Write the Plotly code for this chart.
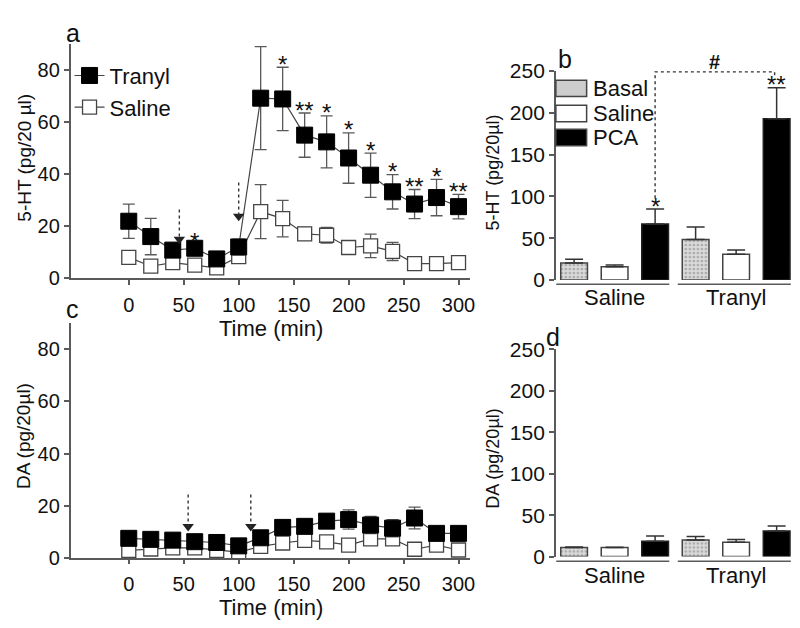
import plotly.graph_objects as go

# ---------------- data ----------------
time_min = [0, 20, 40, 60, 80, 100, 120, 140, 160, 180, 200, 220, 240, 260, 280, 300]

tranyl_5ht = [21.9, 16.0, 10.8, 11.5, 7.4, 12.0, 69.2, 68.9, 55.0, 52.4, 46.2, 39.6, 33.2, 28.5, 31.0, 27.5]
tranyl_5ht_err = [6.6, 7.0, 2.5, 1.5, 1.0, 3.0, 19.8, 12.2, 8.5, 10.0, 9.7, 8.5, 6.6, 5.6, 7.0, 4.7]
saline_5ht = [8.0, 4.6, 6.0, 5.0, 4.0, 8.3, 25.6, 22.9, 17.0, 16.5, 11.8, 12.4, 10.3, 5.6, 5.6, 6.0]
saline_5ht_err = [1.5, 1.2, 1.0, 1.0, 0.8, 2.5, 10.4, 7.0, 2.5, 3.0, 2.0, 4.5, 3.5, 0.5, 0.5, 0.5]
sig_5ht = ["", "", "", "*", "", "", "", "*", "**", "*", "*", "*", "*", "**", "*", "**"]

tranyl_da = [7.4, 7.0, 6.7, 6.1, 5.8, 4.5, 7.6, 11.6, 12.0, 14.0, 14.6, 12.5, 11.3, 15.2, 9.3, 9.3]
tranyl_da_err = [1.0, 1.0, 1.0, 1.0, 1.0, 1.0, 1.5, 2.0, 2.5, 2.5, 3.7, 3.3, 3.3, 4.2, 2.0, 2.0]
saline_da = [2.8, 3.3, 3.7, 3.7, 2.8, 2.1, 4.3, 5.6, 6.6, 6.0, 4.8, 7.2, 7.2, 3.2, 4.8, 2.9]
saline_da_err = [1.0, 0.8, 0.8, 0.8, 0.8, 0.8, 1.0, 1.5, 2.0, 1.0, 1.0, 1.0, 1.0, 0.8, 0.8, 0.8]

# injection arrows (time, top, tip)
arrows_a = [(46, 26.4, 13.5), (100, 36.8, 22.3)]
arrows_c = [(54, 24.2, 10.4), (111, 24.2, 10.4)]

groups = ["Saline", "Tranyl"]
conditions = ["Basal", "Saline", "PCA"]

ht_basal = [20.4, 48.5]
ht_basal_err = [4.6, 15.0]
ht_saline = [16.0, 31.0]
ht_saline_err = [2.0, 5.0]
ht_pca = [67.0, 193.0]
ht_pca_err = [18.0, 37.0]
ht_pca_sig = ["*", "**"]

da_basal = [10.9, 20.0]
da_basal_err = [0.7, 4.4]
da_saline = [11.0, 17.4]
da_saline_err = [0.4, 3.1]
da_pca = [18.6, 31.0]
da_pca_err = [6.2, 6.0]

# ---------------- styling ----------------
W, H = 800, 628
FONT = "Arial, Liberation Sans, sans-serif"
TXT = "#111111"
AX = "#5a5a5a"
LN = "#454545"


def fx(p):
    return p / W


def fy(p):
    return 1 - p / H


fig = go.Figure()

# ---- panel a & c: time courses ----
for (sal, sal_e, tra, tra_e, xa, ya, show) in [
    (saline_5ht, saline_5ht_err, tranyl_5ht, tranyl_5ht_err, "x", "y", True),
    (saline_da, saline_da_err, tranyl_da, tranyl_da_err, "x2", "y2", False),
]:
    fig.add_trace(go.Scatter(
        x=time_min, y=sal, mode="lines+markers", name="Saline",
        error_y=dict(type="data", array=sal_e, color=AX, thickness=1.3, width=6),
        line=dict(color=LN, width=1.2),
        marker=dict(symbol="square", size=14, color="white", line=dict(color=LN, width=1.3)),
        xaxis=xa, yaxis=ya, showlegend=show, legendrank=2, cliponaxis=False,
    ))
    fig.add_trace(go.Scatter(
        x=time_min, y=tra, mode="lines+markers", name="Tranyl",
        error_y=dict(type="data", array=tra_e, color=AX, thickness=1.3, width=6),
        line=dict(color=LN, width=1.2),
        marker=dict(symbol="square", size=16, color="black", line=dict(color="black", width=1)),
        xaxis=xa, yaxis=ya, showlegend=show, legendrank=1, cliponaxis=False,
    ))

shapes = []
annotations = []

# arrows
for arrows, xa, ya in [(arrows_a, "x", "y"), (arrows_c, "x2", "y2")]:
    for (t, top, tip) in arrows:
        shapes.append(dict(type="line", xref=xa, yref=ya, x0=t, x1=t, y0=top, y1=tip + 1.0,
                           line=dict(color="#333", width=1.4, dash="dot")))
    fig.add_trace(go.Scatter(
        x=[a[0] for a in arrows], y=[a[2] + 1.5 for a in arrows], mode="markers",
        marker=dict(symbol="triangle-down", size=10, color="#222"),
        xaxis=xa, yaxis=ya, showlegend=False, hoverinfo="skip", cliponaxis=False,
    ))

STAR = dict(size=24, color=TXT, family=FONT)

# significance stars panel a
for t, v, e, s in zip(time_min, tranyl_5ht, tranyl_5ht_err, sig_5ht):
    if s:
        annotations.append(dict(x=t, y=v + e, xref="x", yref="y", text=s, showarrow=False,
                                yanchor="middle", yshift=3, font=STAR))

# ---- panel b & d: bars ----
bar_style = {
    "Basal": dict(color="#d6d6d6", line=dict(color="#444", width=1.5),
                  pattern=dict(shape=".", fgcolor="#7a7a7a", bgcolor="#dadada", size=4, solidity=0.35)),
    "Saline": dict(color="white", line=dict(color="#444", width=1.5)),
    "PCA": dict(color="black", line=dict(color="#222", width=1.5)),
}
pos = {c: [g * 3 + i for g in range(len(groups))] for i, c in enumerate(conditions)}

for vals, xa, ya in [
    ([(ht_basal, ht_basal_err), (ht_saline, ht_saline_err), (ht_pca, ht_pca_err)], "x3", "y3"),
    ([(da_basal, da_basal_err), (da_saline, da_saline_err), (da_pca, da_pca_err)], "x4", "y4"),
]:
    for c, (v, e) in zip(conditions, vals):
        fig.add_trace(go.Bar(
            x=pos[c], y=v, width=0.66, name=c, marker=bar_style[c],
            error_y=dict(type="data", symmetric=False, array=e, arrayminus=[0] * len(e),
                         color="#333", thickness=1.5, width=9),
            xaxis=xa, yaxis=ya, showlegend=False,
        ))

# stars over PCA bars in b
for x, v, e, s in zip(pos["PCA"], ht_pca, ht_pca_err, ht_pca_sig):
    annotations.append(dict(x=x, y=v + e, xref="x3", yref="y3", text=s, showarrow=False,
                            yanchor="middle", yshift=3, font=STAR))

# bracket with '#'
bx0, bx1 = pos["PCA"][0], pos["PCA"][1] - 0.05
b_start = ht_pca[0] + ht_pca_err[0] + 13
b_top = 249
b_end = 242
shapes.append(dict(type="path", xref="x3", yref="y3",
                   path=f"M {bx0},{b_start} L {bx0},{b_top} L {bx1},{b_top} L {bx1},{b_end}",
                   line=dict(color="#333", width=1.4, dash="dot")))
annotations.append(dict(x=(bx0 + bx1) / 2, y=b_top, xref="x3", yref="y3", text="<b>#</b>", showarrow=False,
                        yanchor="bottom", yshift=-3, font=dict(size=20, color=TXT, family=FONT)))

# group underlines and labels
for xa, ya, ly, ty in [("x3", "y3 domain", -0.02, -0.083), ("x4", "y4 domain", -0.023, -0.093)]:
    for gi, g in enumerate(groups):
        xs = [pos[c][gi] for c in conditions]
        shapes.append(dict(type="line", xref=xa, yref=ya, x0=min(xs) - 0.44, x1=max(xs) + 0.35,
                           y0=ly, y1=ly, line=dict(color=AX, width=1.5)))
        annotations.append(dict(x=sum(xs) / len(xs), y=ty, xref=xa, yref=ya, text=g, showarrow=False,
                                yanchor="middle", font=dict(size=22, color=TXT, family=FONT)))

# manual legend for panel b
leg_fill = {"Basal": "#cdcdcd", "Saline": "white", "PCA": "black"}
for c, yc in zip(conditions, [71, 97, 122]):
    shapes.append(dict(type="rect", xref="paper", yref="paper", x0=fx(552), x1=fx(583),
                       y0=fy(yc + 8.5), y1=fy(yc - 8.5), fillcolor=leg_fill[c],
                       line=dict(color="#444", width=1.5)))
    annotations.append(dict(x=fx(587), y=fy(yc), xref="paper", yref="paper", text=c, showarrow=False,
                            xanchor="left", yanchor="middle", font=dict(size=22, color=TXT, family=FONT)))

# panel letters
for lab, (px, py) in zip(["a", "b", "c", "d"], [(65, 14), (561, 41), (65, 300), (549, 329)]):
    annotations.append(dict(x=fx(px), y=fy(py), xref="paper", yref="paper", text=lab, showarrow=False,
                            xanchor="center", yanchor="middle", font=dict(size=25, color=TXT, family=FONT)))

# axis titles
for txt, (px, py), ang, sz in [
    ("5-HT (pg/20 µl)", (17, 143), -90, 19),
    ("DA (pg/20µl)", (15, 432), -90, 19),
    ("5-HT (pg/20µl)", (489, 158), -90, 18),
    ("DA (pg/20µl)", (489, 455), -90, 18),
    ("Time (min)", (265, 320), 0, 22),
    ("Time (min)", (265, 610), 0, 22),
]:
    annotations.append(dict(x=fx(px), y=fy(py), xref="paper", yref="paper", text=txt, showarrow=False,
                            textangle=ang, xanchor="center", yanchor="middle",
                            font=dict(size=sz, color=TXT, family=FONT)))

common = dict(showgrid=False, zeroline=False, showline=True, linecolor=AX, linewidth=1.5,
              ticks="outside", ticklen=5, tickwidth=1.5, tickcolor=AX,
              tickfont=dict(size=20, color=TXT, family=FONT))
common_b = {**common, "tickfont": dict(size=21, color=TXT, family=FONT)}

fig.update_layout(
    width=W, height=H, margin=dict(l=0, r=0, t=0, b=0),
    paper_bgcolor="white", plot_bgcolor="white",
    font=dict(family=FONT, color=TXT),
    barmode="overlay",
    xaxis=dict(domain=[fx(63), fx(465)], range=[-53, 310], anchor="y",
               tickvals=[0, 50, 100, 150, 200, 250, 300], ticklabelstandoff=3, **common),
    yaxis=dict(domain=[fy(268), fy(25)], range=[0, 90], anchor="x",
               tickvals=[0, 20, 40, 60, 80], **common),
    xaxis2=dict(domain=[fx(63), fx(465)], range=[-53, 310], anchor="y2",
                tickvals=[0, 50, 100, 150, 200, 250, 300], ticklabelstandoff=3, **common),
    yaxis2=dict(domain=[fy(558), fy(315)], range=[0, 90], anchor="x2",
                tickvals=[0, 20, 40, 60, 80], **common),
    xaxis3=dict(domain=[fx(552), fx(792)], range=[-0.45, 5.43], anchor="y3", visible=False),
    yaxis3=dict(domain=[fy(270), fy(53)], range=[0, 250], anchor="x3",
                tickvals=[0, 50, 100, 150, 200, 250], **common_b),
    xaxis4=dict(domain=[fx(552), fx(792)], range=[-0.45, 5.43], anchor="y4", visible=False),
    yaxis4=dict(domain=[fy(557), fy(342)], range=[0, 250], anchor="x4",
                tickvals=[0, 50, 100, 150, 200, 250], **common_b),
    legend=dict(x=fx(62), y=fy(36), xanchor="left", yanchor="top", bgcolor="rgba(0,0,0,0)",
                font=dict(size=22, color=TXT, family=FONT), itemwidth=30, tracegroupgap=0),
    shapes=shapes,
    annotations=annotations,
)

fig.write_html("out.html")
